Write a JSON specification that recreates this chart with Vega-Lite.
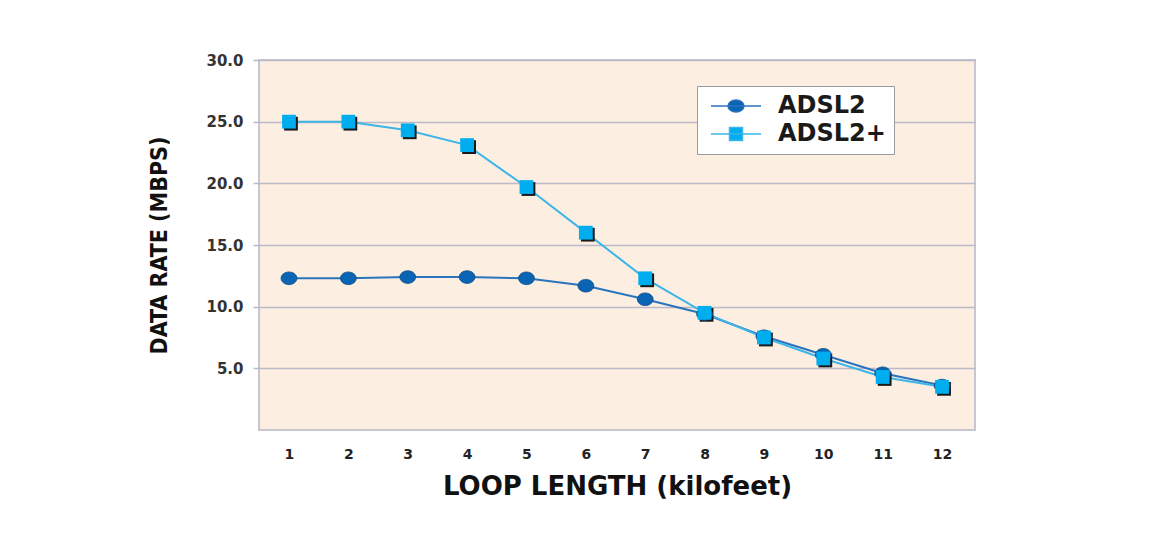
{
  "$schema": "https://vega.github.io/schema/vega-lite/v6.json",
  "width": 716,
  "height": 370,
  "autosize": {"type": "none"},
  "padding": {"left": 259, "top": 60, "right": 187, "bottom": 118},
  "background": "white",
  "config": {
    "view": {"fill": "#fcefe1", "stroke": "#c8c6d0", "strokeWidth": 2},
    "font": "DejaVu Sans"
  },
  "data": {
    "values": [
      {"kft": 1, "series": "ADSL2", "rate": 12.3},
      {"kft": 2, "series": "ADSL2", "rate": 12.3},
      {"kft": 3, "series": "ADSL2", "rate": 12.4},
      {"kft": 4, "series": "ADSL2", "rate": 12.4},
      {"kft": 5, "series": "ADSL2", "rate": 12.3},
      {"kft": 6, "series": "ADSL2", "rate": 11.7},
      {"kft": 7, "series": "ADSL2", "rate": 10.6},
      {"kft": 8, "series": "ADSL2", "rate": 9.4},
      {"kft": 9, "series": "ADSL2", "rate": 7.6},
      {"kft": 10, "series": "ADSL2", "rate": 6.1},
      {"kft": 11, "series": "ADSL2", "rate": 4.6},
      {"kft": 12, "series": "ADSL2", "rate": 3.6},
      {"kft": 1, "series": "ADSL2+", "rate": 25.0},
      {"kft": 2, "series": "ADSL2+", "rate": 25.0},
      {"kft": 3, "series": "ADSL2+", "rate": 24.3},
      {"kft": 4, "series": "ADSL2+", "rate": 23.1},
      {"kft": 5, "series": "ADSL2+", "rate": 19.7},
      {"kft": 6, "series": "ADSL2+", "rate": 16.0},
      {"kft": 7, "series": "ADSL2+", "rate": 12.3},
      {"kft": 8, "series": "ADSL2+", "rate": 9.5},
      {"kft": 9, "series": "ADSL2+", "rate": 7.5},
      {"kft": 10, "series": "ADSL2+", "rate": 5.8},
      {"kft": 11, "series": "ADSL2+", "rate": 4.3},
      {"kft": 12, "series": "ADSL2+", "rate": 3.5}
    ]
  },
  "encoding": {
    "x": {
      "field": "kft", "type": "quantitative",
      "scale": {"domain": [0.495, 12.555], "nice": false, "zero": false},
      "axis": {
        "values": [1, 2, 3, 4, 5, 6, 7, 8, 9, 10, 11, 12], "format": "d",
        "title": "LOOP LENGTH (kilofeet)", "grid": false, "ticks": false, "domain": false,
        "labelFontWeight": "bold", "labelFontSize": 14, "labelColor": "#222", "labelPadding": 17, "labelFlush": false,
        "titleFontSize": 26, "titleFontWeight": "bold", "titleColor": "#111", "titlePadding": 12
      }
    },
    "y": {
      "field": "rate", "type": "quantitative",
      "scale": {"domain": [0, 30], "nice": false},
      "axis": {
        "values": [5, 10, 15, 20, 25, 30], "format": ".1f",
        "title": "DATA RATE (MBPS)", "grid": true, "gridColor": "#bcb9c8", "gridWidth": 1.5,
        "tickColor": "#bcb9c8", "tickSize": 6, "tickWidth": 1.5, "domain": false,
        "labelFontWeight": "bold", "labelFontSize": 15, "labelColor": "#333", "labelPadding": 10, "labelFlush": false,
        "titleFont": "DejaVu Sans Condensed", "titleFontSize": 23, "titleFontWeight": "bold", "titleColor": "#111", "titlePadding": 34
      }
    }
  },
  "layer": [
    {
      "transform": [{"filter": "datum.series === 'ADSL2'"}],
      "mark": {"type": "line", "strokeWidth": 2, "color": "#2a74bd"}
    },
    {
      "transform": [{"filter": "datum.series === 'ADSL2+'"}],
      "mark": {"type": "line", "strokeWidth": 2, "color": "#3db5e8"}
    },
    {
      "transform": [{"filter": "datum.series === 'ADSL2+'"}],
      "mark": {"type": "point", "shape": "square", "filled": true, "color": "#1a1a1a", "opacity": 1, "size": 190, "xOffset": 2, "yOffset": 2}
    },
    {
      "transform": [{"filter": "datum.series === 'ADSL2'"}],
      "mark": {"type": "point", "shape": "M-1,0A1,0.8 0 1,0 1,0A1,0.8 0 1,0 -1,0Z", "filled": true, "color": "#0a64b4", "opacity": 1, "size": 250, "stroke": "#0b4a86", "strokeWidth": 0.8}
    },
    {
      "transform": [{"filter": "datum.series === 'ADSL2+'"}],
      "mark": {"type": "point", "shape": "square", "filled": true, "color": "#00adef", "opacity": 1, "size": 190}
    },
    {
      "transform": [{"filter": "false"}],
      "mark": {"type": "point", "filled": true, "opacity": 1, "strokeWidth": 1.5},
      "encoding": {
        "fill": {"field": "series", "type": "nominal", "scale": {"domain": ["ADSL2", "ADSL2+"], "range": ["#0a64b4", "#00adef"]},
          "legend": {
            "title": null, "orient": "none", "legendX": 438, "legendY": 26,
            "symbolSize": 100, "symbolStrokeWidth": 1.5, "symbolOffset": 19, "symbolOpacity": 1,
            "labelOffset": 30, "labelFontSize": 24, "labelFontWeight": "bold", "labelColor": "#1a1a1a",
            "rowPadding": 4, "padding": 8, "fillColor": "white", "strokeColor": "#9a9aa0"
          }
        },
        "stroke": {"field": "series", "type": "nominal", "scale": {"domain": ["ADSL2", "ADSL2+"], "range": ["#2a74bd", "#3db5e8"]}},
        "shape": {"field": "series", "type": "nominal", "scale": {"domain": ["ADSL2", "ADSL2+"], "range": ["M-5,0H5M-1.6,0A1.6,1.2 0 1,0 1.6,0A1.6,1.2 0 1,0 -1.6,0Z", "M-5,0H5M-1.3,-1.3H1.3V1.3H-1.3Z"]}}
      }
    }
  ]
}
